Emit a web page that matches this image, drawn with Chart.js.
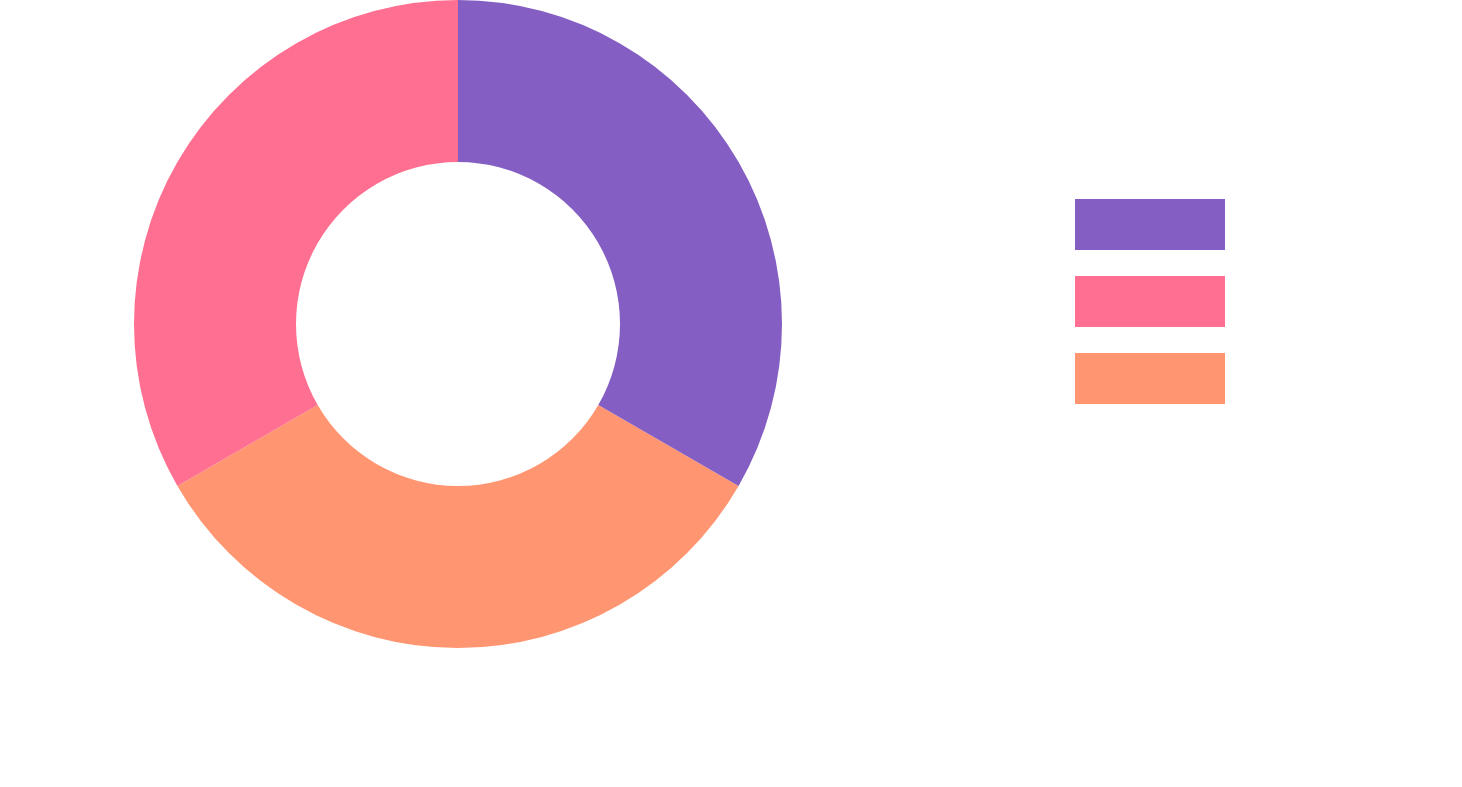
<!DOCTYPE html>
<html>
<head>
<meta charset="utf-8">
<script src="https://cdn.jsdelivr.net/npm/chart.js@4.4.0/dist/chart.umd.min.js"></script>
<style>
  html, body { margin: 0; padding: 0; background: #fff; overflow: hidden; }
  #wrap { position: absolute; left: -133px; top: 0; width: 1595px; height: 787px; }
</style>
</head>
<body>
<div id="wrap"><canvas id="myChart"></canvas></div>
<script>
// slices go clockwise from 120deg, legend is shown reversed
var labels = ["", "", ""];
var values = [1, 1, 1];
var colors = ["#FF9671", "#FF6F91", "#845EC2"];

var ctx = document.getElementById("myChart");
var myChart = new Chart(ctx, {
    type: 'doughnut',
    data: {
        labels: labels,
        datasets: [{
            data: values,
            backgroundColor: colors,
            borderWidth: 0,
            hoverOffset: 0
        }]
    },
    options: {
        responsive: true,
        maintainAspectRatio: false,
        animation: false,
        rotation: 120,
        cutout: '50%',
        layout: {
            padding: { top: 0, bottom: 139, left: 0, right: 221 }
        },
        plugins: {
            tooltip: { enabled: false },
            legend: {
                position: 'right',
                align: 'start',
                reverse: true,
                title: { display: true, text: '', padding: { top: 158.6, bottom: 0 } },
                labels: {
                    boxWidth: 150,
                    boxHeight: 51,
                    padding: 26,
                    color: '#666'
                }
            }
        }
    }
});
</script>
</body>
</html>
